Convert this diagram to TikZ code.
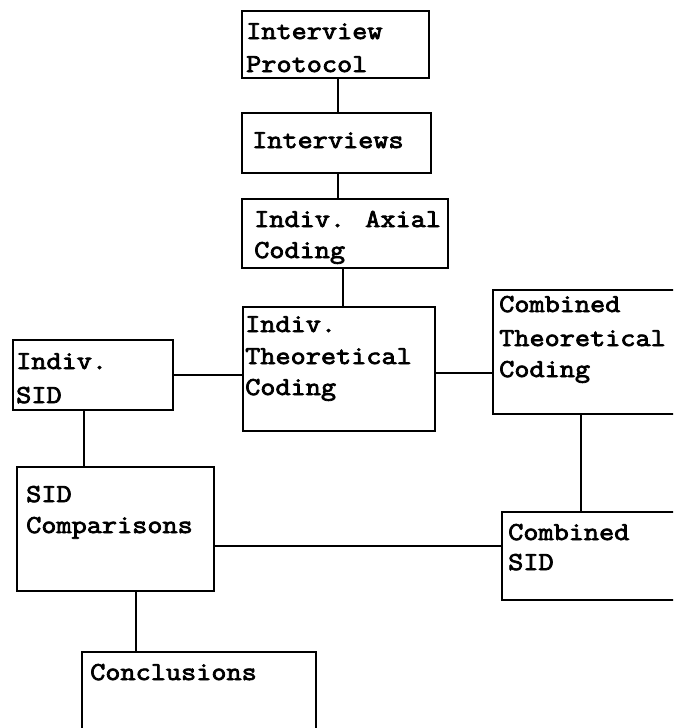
\documentclass[tikz,border=0pt]{standalone}
\usepackage{fontspec}
\newfontfamily\boxfont[FakeStretch=1.14,FakeBold=3]{Latin Modern Mono}
\begin{document}
\begin{tikzpicture}[x=1pt,y=-1pt,
  box/.style={draw=black,line width=1.6pt,rectangle,inner sep=0pt},
  txt/.style={anchor=base west,inner sep=0pt,font=\boxfont\fontsize{25.8}{30}\selectfont},
  link/.style={draw=black,line width=1.6pt}]
\useasboundingbox (0,0) rectangle (673,728);
\clip (0,0) rectangle (673,728);
% boxes
\node[box,minimum width=187,minimum height=67]  (ip)   at (335.5,44.5) {};
\node[box,minimum width=189,minimum height=60]  (iv)   at (336.5,143) {};
\node[box,minimum width=206,minimum height=69]  (iac)  at (345,233.5) {};
\node[box,minimum width=192,minimum height=124] (itc)  at (339,369) {};
\node[box,minimum width=160,minimum height=70]  (isid) at (93,375) {};
\node[box,minimum width=207,minimum height=124] (ctc)  at (596.5,352) {};
\node[box,minimum width=197,minimum height=124] (sc)   at (115.5,529) {};
\node[box,minimum width=198,minimum height=88]  (csid) at (601,556) {};
\node[box,minimum width=234,minimum height=108] (conc) at (199,706) {};
% texts
\node[txt] (ip1) at (246,39) {Interview};
\node[txt] (ip2) at (246,72) {Protocol};
\node[txt] (iv1) at (252,148) {Interviews};
\node[txt] (iac1) at (254,227) {Indiv. Axial};
\node[txt] (iac2) at (254,258) {Coding};
\node[txt] (itc1) at (245,332) {Indiv.};
\node[txt] (itc2) at (245,364) {Theoretical};
\node[txt] (itc3) at (245,395) {Coding};
\node[txt] (isid1) at (16,369) {Indiv.};
\node[txt] (isid2) at (16,403) {SID};
\node[txt] (ctc1) at (499,312) {Combined};
\node[txt] (ctc2) at (499,346) {Theoretical};
\node[txt] (ctc3) at (499,377) {Coding};
\node[txt] (sc1) at (26,502) {SID};
\node[txt] (sc2) at (26,533) {Comparisons};
\node[txt] (csid1) at (508,540) {Combined};
\node[txt] (csid2) at (508,570) {SID};
\node[txt] (conc1) at (90,680) {Conclusions};
% helper coordinates for connector positions
\coordinate (xa) at (338,0);
\coordinate (xb) at (343,0);
\coordinate (xc) at (84,0);
\coordinate (xd) at (581,0);
\coordinate (xe) at (136,0);
\coordinate (ya) at (0,375);
\coordinate (yb) at (0,373);
\coordinate (yc) at (0,546);
% connectors
\draw[link] (ip.south -| xa) -- (iv.north -| xa);
\draw[link] (iv.south -| xa) -- (iac.north -| xa);
\draw[link] (iac.south -| xb) -- (itc.north -| xb);
\draw[link] (isid.east |- ya) -- (itc.west |- ya);
\draw[link] (itc.east |- yb) -- (ctc.west |- yb);
\draw[link] (isid.south -| xc) -- (sc.north -| xc);
\draw[link] (ctc.south -| xd) -- (csid.north -| xd);
\draw[link] (sc.east |- yc) -- (csid.west |- yc);
\draw[link] (sc.south -| xe) -- (conc.north -| xe);
\end{tikzpicture}
\end{document}
